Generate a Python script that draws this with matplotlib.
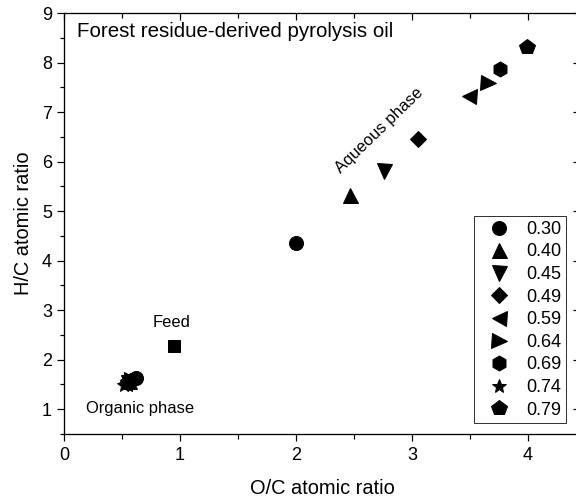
import numpy as np
import matplotlib.pyplot as plt
from matplotlib.ticker import MultipleLocator

plt.rcParams['font.family'] = ['Liberation Sans', 'DejaVu Sans']

# sample labels (fraction) and their markers
labels = ['0.30', '0.40', '0.45', '0.49', '0.59', '0.64', '0.69', '0.74', '0.79']
markers = ['o', '^', 'v', 'D', '<', '>', 'h', '*', 'p']
sizes = [14, 15, 15, 12, 15, 15, 15, 14, 16]

# organic phase O/C and H/C
org_oc = [0.62, 0.56, 0.55, 0.57, 0.53, 0.58, 0.60, 0.52, 0.55]
org_hc = [1.64, 1.56, 1.53, 1.58, 1.53, 1.60, 1.62, 1.48, 1.55]

# aqueous phase O/C and H/C (no aqueous value for 0.74)
aq_oc = [2.00, 2.47, 2.76, 3.05, 3.49, 3.66, 3.76, np.nan, 3.99]
aq_hc = [4.36, 5.32, 5.81, 6.45, 7.33, 7.59, 7.86, np.nan, 8.31]

# feed
feed_oc = 0.95
feed_hc = 2.27

fig = plt.figure(figsize=(576 / 72, 503 / 72), dpi=72)
ax = fig.add_axes([64 / 576, 69 / 503, 516 / 576, 421 / 503])

for lab, m, s, xo, yo, xa, ya in zip(labels, markers, sizes, org_oc, org_hc, aq_oc, aq_hc):
    ax.plot([xo, xa], [yo, ya], linestyle='none', marker=m, ms=s,
            color='black', label=lab)

ax.plot([feed_oc], [feed_hc], linestyle='none', marker='s', ms=12, color='black')

ax.set_xlim(0, 4.45)
ax.set_ylim(0.5, 9)
ax.xaxis.set_major_locator(MultipleLocator(1))
ax.xaxis.set_minor_locator(MultipleLocator(0.5))
ax.yaxis.set_major_locator(MultipleLocator(1))
ax.yaxis.set_minor_locator(MultipleLocator(0.5))

ax.tick_params(which='both', direction='out', labelsize=18, width=1.2)
ax.tick_params(which='major', length=7)
ax.tick_params(which='minor', length=4.5)
ax.tick_params(which='both', top=True, right=True)
ax.tick_params(axis='x', which='both', labeltop=False, pad=6)
ax.tick_params(axis='y', which='both', labelright=False, pad=5)
# ticks on the top and right edges point inward
for t in ax.xaxis.get_major_ticks() + ax.xaxis.get_minor_ticks():
    t.tick2line.set_marker(3)
for t in ax.yaxis.get_major_ticks() + ax.yaxis.get_minor_ticks():
    t.tick2line.set_marker(0)
for sp in ax.spines.values():
    sp.set_linewidth(1.3)

ax.set_xlabel('O/C atomic ratio', fontsize=20, labelpad=15)
ax.set_ylabel('H/C atomic ratio', fontsize=20, labelpad=9)

ax.text(0.11, 8.62, 'Forest residue-derived pyrolysis oil', fontsize=20.5, va='center')
ax.text(0.93, 2.76, 'Feed', fontsize=16.5, ha='center', va='center')
ax.text(0.655, 1.02, 'Organic phase', fontsize=16.5, ha='center', va='center')
ax.text(2.72, 6.62, 'Aqueous phase', fontsize=16.5, ha='center', va='center',
        rotation=44, rotation_mode='anchor')

leg = ax.legend(loc='lower right', bbox_to_anchor=(0.973, 0.026), borderaxespad=0,
                fontsize=18, frameon=True, fancybox=False, labelspacing=0.31,
                handlelength=2.3, handletextpad=0.35, borderpad=0.25, numpoints=1)
leg.get_frame().set_edgecolor('black')
leg.get_frame().set_linewidth(1.0)

fig.savefig('out.png', dpi=72)
